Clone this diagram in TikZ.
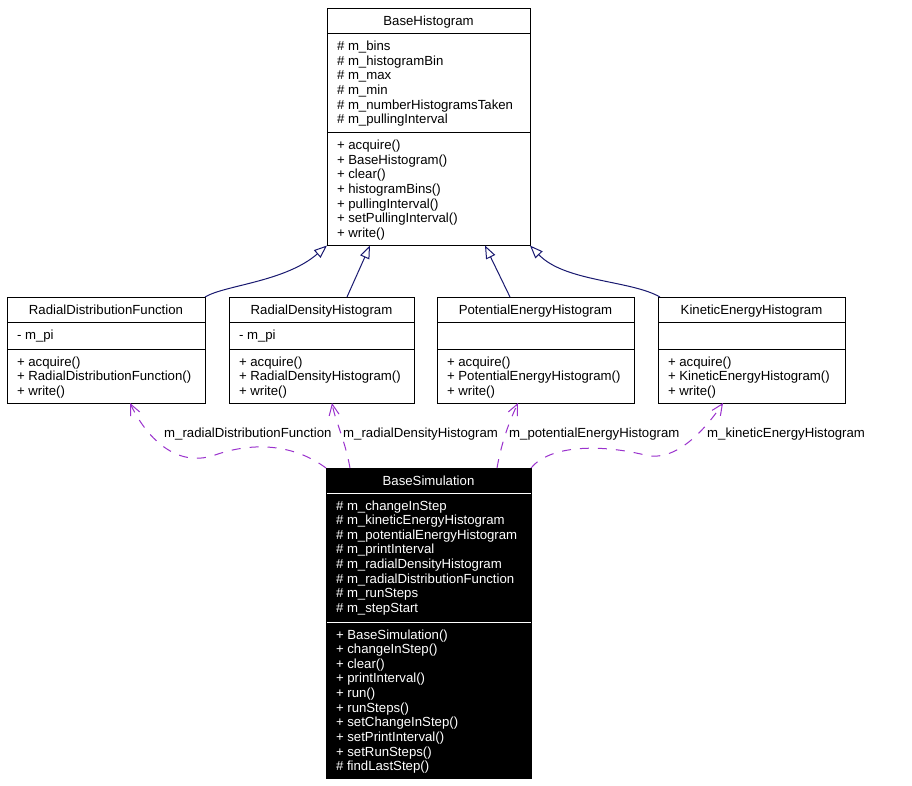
\documentclass[tikz,border=0pt]{standalone}
\usepackage{fontspec}
\newfontfamily\umlfont{Liberation Sans}
\usetikzlibrary{shapes.multipart,arrows.meta}

\definecolor{inhblue}{RGB}{25,25,112}
\definecolor{assocpurple}{RGB}{154,50,205}

\newcommand\umlsize{\umlfont\fontsize{13.2pt}{14.65pt}\selectfont}
\newcommand\ustrut{\rule[-3.65pt]{0pt}{14.65pt}}
\newcommand\umlrow[1]{\ustrut#1\par}
\newcommand\clsname[2]{\parbox[b][24pt][t]{#1}{\centering\vspace*{6pt}\ustrut#2\par}}
\newcommand\compart[3]{\parbox[b][#2][t]{#1}{\raggedright\leftskip=10pt\vspace*{5.5pt}#3}}

\begin{document}
\begin{tikzpicture}[x=1pt, y=-1pt,
    cls/.style={rectangle split, rectangle split parts=3, draw, line width=1pt,
      inner sep=0pt, outer sep=0pt, anchor=north west, font=\umlsize},
    inh/.style={draw=inhblue, line width=1pt, -{Triangle[open, length=13pt, width=10pt]}},
    assoc/.style={draw=assocpurple, line width=1pt, dash pattern=on 9pt off 9pt,
      -{Straight Barb[length=11pt, width=10pt]}},
    lbl/.style={inner sep=0pt, anchor=base west, font=\umlsize}]

  \path[use as bounding box, fill=white] (0,0) rectangle (912,786);

  % base class
  \node[cls] (bh) at (327,8.5) {\clsname{203pt}{BaseHistogram}%
    \nodepart{two}\compart{203pt}{98pt}{\umlrow{\# m\_bins}\umlrow{\# m\_histogramBin}%
      \umlrow{\# m\_max}\umlrow{\# m\_min}\umlrow{\# m\_numberHistogramsTaken}%
      \umlrow{\# m\_pullingInterval}}%
    \nodepart{three}\compart{203pt}{112pt}{\umlrow{+ acquire()}\umlrow{+ BaseHistogram()}%
      \umlrow{+ clear()}\umlrow{+ histogramBins()}\umlrow{+ pullingInterval()}%
      \umlrow{+ setPullingInterval()}\umlrow{+ write()}}};

  % derived histograms
  \node[cls] (rdf) at (7,297) {\clsname{198pt}{RadialDistributionFunction}%
    \nodepart{two}\compart{198pt}{26pt}{\umlrow{- m\_pi}}%
    \nodepart{three}\compart{198pt}{53pt}{\umlrow{+ acquire()}%
      \umlrow{+ RadialDistributionFunction()}\umlrow{+ write()}}};
  \node[cls] (rdh) at (229,297) {\clsname{185pt}{RadialDensityHistogram}%
    \nodepart{two}\compart{185pt}{26pt}{\umlrow{- m\_pi}}%
    \nodepart{three}\compart{185pt}{53pt}{\umlrow{+ acquire()}%
      \umlrow{+ RadialDensityHistogram()}\umlrow{+ write()}}};
  \node[cls] (peh) at (437,297) {\clsname{197pt}{PotentialEnergyHistogram}%
    \nodepart{two}\compart{197pt}{26pt}{}%
    \nodepart{three}\compart{197pt}{53pt}{\umlrow{+ acquire()}%
      \umlrow{+ PotentialEnergyHistogram()}\umlrow{+ write()}}};
  \node[cls] (keh) at (658,297) {\clsname{187pt}{KineticEnergyHistogram}%
    \nodepart{two}\compart{187pt}{26pt}{}%
    \nodepart{three}\compart{187pt}{53pt}{\umlrow{+ acquire()}%
      \umlrow{+ KineticEnergyHistogram()}\umlrow{+ write()}}};

  % simulation
  \node[cls, fill=black, draw=white, text=white] (bs) at (326,468) {\clsname{205pt}{BaseSimulation}%
    \nodepart{two}\compart{205pt}{128pt}{\umlrow{\# m\_changeInStep}%
      \umlrow{\# m\_kineticEnergyHistogram}\umlrow{\# m\_potentialEnergyHistogram}%
      \umlrow{\# m\_printInterval}\umlrow{\# m\_radialDensityHistogram}%
      \umlrow{\# m\_radialDistributionFunction}\umlrow{\# m\_runSteps}%
      \umlrow{\# m\_stepStart}}%
    \nodepart{three}\compart{205pt}{155pt}{\umlrow{+ BaseSimulation()}%
      \umlrow{+ changeInStep()}\umlrow{+ clear()}\umlrow{+ printInterval()}%
      \umlrow{+ run()}\umlrow{+ runSteps()}\umlrow{+ setChangeInStep()}%
      \umlrow{+ setPrintInterval()}\umlrow{+ setRunSteps()}\umlrow{\# findLastStep()}}};
  \draw[line width=1pt] (bs.north west) rectangle (bs.south east);

  % inheritance
  \draw[inh] (rdf.north east) .. controls (225,285) and (285,282) .. (bh.south west);
  \draw[inh] ([xshift=118pt]rdh.north west) -- ([xshift=43pt]bh.south west);
  \draw[inh] ([xshift=73pt]peh.north west) -- ([xshift=158pt]bh.south west);
  \draw[inh] ([xshift=2pt]keh.north west) .. controls (630,280) and (565,282) .. (bh.south east);

  % members
  \draw[assoc] (bs.north west) .. controls (295,445) and (255,441) .. (215,455)
    .. controls (175,469) and (145,435) .. ([xshift=123pt]rdf.south west);
  \draw[assoc] ([xshift=24pt]bs.north west) .. controls (345,440) and (335,420) .. ([xshift=103pt]rdh.south west);
  \draw[assoc] ([xshift=171pt]bs.north west) .. controls (502,440) and (510,420) .. ([xshift=81pt]peh.south west);
  \draw[assoc] (bs.north east) .. controls (550,445) and (600,444) .. (645,455)
    .. controls (675,463) and (705,430) .. ([xshift=65pt]keh.south west);

  \node[lbl] (lrdf) at (164,437) {m\_radialDistributionFunction};
  \node[lbl] (lrdh) at (343,437) {m\_radialDensityHistogram};
  \node[lbl] (lpeh) at (509,437) {m\_potentialEnergyHistogram};
  \node[lbl] (lkeh) at (707,437) {m\_kineticEnergyHistogram};
\end{tikzpicture}
\end{document}
